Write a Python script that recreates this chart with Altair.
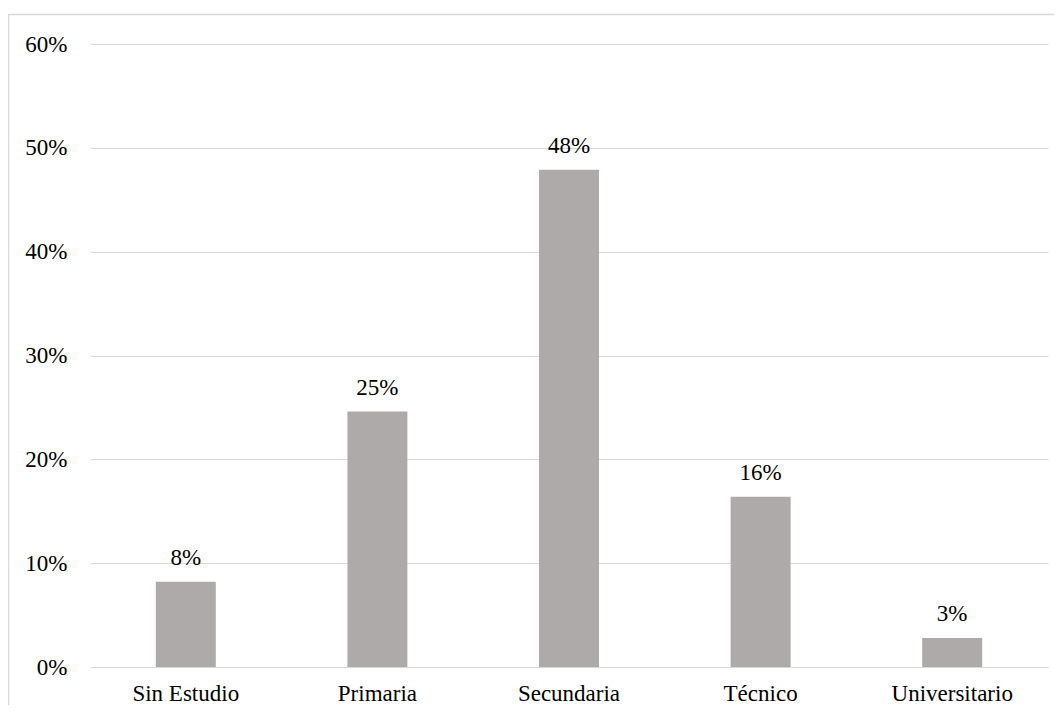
import altair as alt
import pandas as pd

categories = ["Sin Estudio", "Primaria", "Secundaria", "Técnico", "Universitario"]
values = [0.082, 0.246, 0.479, 0.164, 0.028]
labels = ["8%", "25%", "48%", "16%", "3%"]

df = pd.DataFrame({"cat": categories, "val": values, "lab": labels})

W, H = 958, 623
FONT = "Liberation Serif, Tinos, Nimbus Roman, Noto Serif, DejaVu Serif, serif"
GRID = "#d9d9d9"

x = alt.X("cat:N", sort=categories, title=None,
          scale=alt.Scale(paddingInner=0, paddingOuter=0),
          axis=alt.Axis(labelAngle=0, labelFont=FONT, labelFontSize=23,
                        labelColor="#000000", ticks=False, domain=True,
                        domainColor=GRID, domainWidth=1, labelPadding=15,
                        grid=False))
y = alt.Y("val:Q", title=None,
          scale=alt.Scale(domain=[0, 0.6], nice=False),
          axis=alt.Axis(format=".0%", values=[0, 0.1, 0.2, 0.3, 0.4, 0.5, 0.6],
                        labelFont=FONT, labelFontSize=23, labelColor="#000000",
                        ticks=False, domain=False, labelPadding=23,
                        grid=True, gridColor=GRID, gridWidth=1))

bars = alt.Chart(df).mark_bar(size=60, color="#aeaaaa").encode(x=x, y=y)

text = alt.Chart(df).mark_text(font=FONT, fontSize=23, color="#000000",
                               baseline="alphabetic", dy=-17).encode(
    x=alt.X("cat:N", sort=categories), y="val:Q", text="lab:N")

frame = alt.Chart(df.head(1)).mark_rect(fill=None, stroke=GRID, strokeWidth=1.5).encode(
    x=alt.value(-81.5), x2=alt.value(W + 60),
    y=alt.value(-29.5), y2=alt.value(H + 100))

chart = alt.layer(frame, bars, text).properties(
    width=W, height=H,
    autosize=alt.AutoSizeParams(type="none"),
    padding={"left": 82, "top": 36, "right": 6, "bottom": 38},
    background="white",
).configure_view(stroke=None)

chart.save("out.html", embed_options={"renderer": "svg", "actions": False})
